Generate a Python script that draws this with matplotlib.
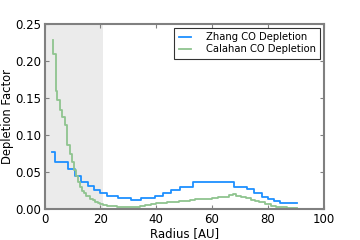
import matplotlib
matplotlib.use('Agg')
import matplotlib.pyplot as plt
from matplotlib.lines import Line2D
from matplotlib.legend_handler import HandlerLine2D

# Zhang CO depletion: left bin edges and levels (step post)
zhang_r = [2.7, 3.8, 8.5, 10.9, 13.0, 15.4, 17.8, 19.7, 22.5, 26.3, 31.0, 34.6,
           39.5, 42.5, 45.3, 48.6, 53.2, 68.0, 72.6, 75.1, 78.0, 80.1, 82.3, 84.3, 90.3]
zhang_d = [0.0775, 0.064, 0.054, 0.045, 0.037, 0.031, 0.026, 0.021, 0.018, 0.015, 0.0122, 0.0145,
           0.018, 0.0215, 0.026, 0.030, 0.037, 0.030, 0.0266, 0.021, 0.0166, 0.013, 0.0108, 0.008, 0.008]

# Calahan CO depletion
calahan_r = [2.9, 3.0, 4.0, 4.6, 5.5, 6.4, 7.2, 8.1, 9.0, 9.9, 10.6, 11.3, 11.9, 12.6, 13.4,
             14.2, 15.0, 16.2, 17.2, 18.0, 19.0, 19.8, 21.0, 22.2, 24.0, 25.8, 28.0, 30.0,
             32.0, 34.0, 36.0, 38.0, 40.0, 42.0, 44.0, 46.0, 48.0, 50.0, 52.0, 54.0, 56.0,
             58.0, 60.0, 62.0, 64.0, 66.0, 67.5, 68.5, 70.5, 72.0, 74.0, 75.5, 77.0, 79.0,
             81.0, 83.0, 85.0, 87.0, 90.3]
calahan_d = [0.228, 0.209, 0.160, 0.147, 0.134, 0.124, 0.113, 0.086, 0.074, 0.063, 0.053, 0.045,
             0.037, 0.030, 0.025, 0.021, 0.0176, 0.014, 0.012, 0.0099, 0.008, 0.0068, 0.0055,
             0.0045, 0.0037, 0.003, 0.0026, 0.0024, 0.0023, 0.0035, 0.005, 0.0065, 0.0077,
             0.0085, 0.009, 0.010, 0.0108, 0.0113, 0.012, 0.013, 0.0135, 0.014, 0.0148, 0.0156,
             0.0168, 0.0185, 0.0203, 0.018, 0.0166, 0.015, 0.0125, 0.011, 0.009, 0.0063,
             0.0045, 0.003, 0.0022, 0.0017, 0.0017]

shade_max = 21

fig = plt.figure(figsize=(3.6, 2.4), dpi=100)
ax = fig.add_axes([0.124, 0.129, 0.775, 0.771])

ax.axvspan(0, shade_max, color='#ebebeb', lw=0, zorder=0)
ax.step(zhang_r, zhang_d, where='post', color='#1e90ff', lw=1.3, label='Zhang CO Depletion')
ax.step(calahan_r, calahan_d, where='post', color='#8fc48f', lw=1.3, label='Calahan CO Depletion')

ax.set_xlim(0, 100)
ax.set_ylim(0, 0.25)
ax.set_xticks([0, 20, 40, 60, 80, 100])
ax.set_yticks([0, 0.05, 0.10, 0.15, 0.20, 0.25])
ax.set_yticklabels(['0.00', '0.05', '0.10', '0.15', '0.20', '0.25'])
ax.tick_params(direction='in', top=True, right=True, labelsize=8.5, length=3,
               color='#808080', pad=2.5)
for s in ax.spines.values():
    s.set_color('#808080')
    s.set_linewidth(1.5)

ax.set_xlabel('Radius [AU]', fontsize=8.5, labelpad=1)
ax.set_ylabel('Depletion Factor', fontsize=8.3, labelpad=0.5)

leg = ax.legend(loc='upper right', fontsize=7.2, fancybox=False, handlelength=1.3,
                handletextpad=1.47, borderpad=0.4, labelspacing=0.25, borderaxespad=0.4,
                handler_map={Line2D: HandlerLine2D(xpad=0.1)})
leg.get_frame().set_edgecolor('black')
leg.get_frame().set_linewidth(0.8)

plt.savefig('out.png', dpi=100)
